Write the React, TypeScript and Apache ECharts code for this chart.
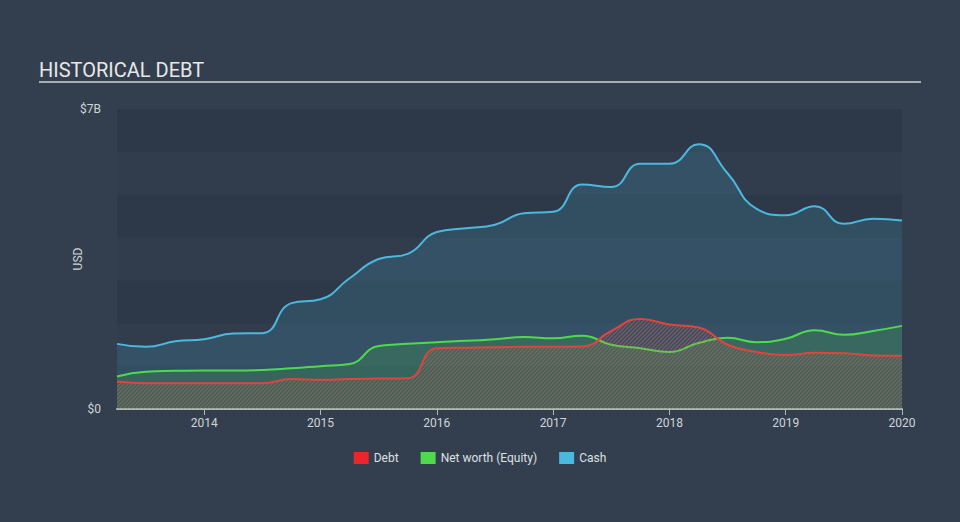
import React, { useEffect, useRef } from "react";
import * as echarts from "echarts";

const quarters = [
  2013.25, 2013.5, 2013.75, 2014.0, 2014.25, 2014.5, 2014.75, 2015.0, 2015.25, 2015.5,
  2015.75, 2016.0, 2016.25, 2016.5, 2016.75, 2017.0, 2017.25, 2017.5, 2017.75, 2018.0,
  2018.25, 2018.5, 2018.75, 2019.0, 2019.25, 2019.5, 2019.75, 2020.0,
];
const cash = [
  1.52, 1.45, 1.58, 1.63, 1.76, 1.77, 2.47, 2.56, 3.05, 3.5,
  3.62, 4.13, 4.22, 4.3, 4.57, 4.6, 5.24, 5.18, 5.72, 5.72,
  6.18, 5.5, 4.67, 4.52, 4.73, 4.32, 4.44, 4.4,
];
const equity = [
  0.76, 0.87, 0.89, 0.9, 0.9, 0.91, 0.95, 1.0, 1.05, 1.47,
  1.52, 1.56, 1.59, 1.63, 1.68, 1.65, 1.71, 1.5, 1.42, 1.33,
  1.54, 1.66, 1.56, 1.64, 1.84, 1.73, 1.82, 1.94,
];
const debt = [
  0.64, 0.6, 0.6, 0.6, 0.6, 0.6, 0.7, 0.68, 0.7, 0.71,
  0.72, 1.42, 1.43, 1.44, 1.45, 1.45, 1.46, 1.82, 2.1, 1.97,
  1.9, 1.5, 1.33, 1.26, 1.31, 1.3, 1.25, 1.24,
];
const yearTicks = [2014, 2015, 2016, 2017, 2018, 2019, 2020];
const seriesNames = ["Debt", "Net worth (Equity)", "Cash"];

function makeHatch(): HTMLCanvasElement {
  const c = document.createElement("canvas");
  c.width = 4;
  c.height = 4;
  const ctx = c.getContext("2d")!;
  ctx.strokeStyle = "rgba(226,96,80,0.72)";
  ctx.lineWidth = 1.15;
  ctx.beginPath();
  ctx.moveTo(0, 4);
  ctx.lineTo(4, 0);
  ctx.moveTo(-1, 1);
  ctx.lineTo(1, -1);
  ctx.moveTo(3, 5);
  ctx.lineTo(5, 3);
  ctx.stroke();
  return c;
}

export default function App() {
  const ref = useRef<HTMLDivElement>(null);
  useEffect(() => {
    document.body.style.margin = "0";
    const chart = echarts.init(ref.current!, null, { renderer: "svg" });
    const pairs = (vals: number[]) => quarters.map((q, i) => [q, vals[i]]);
    const font = "Roboto, sans-serif";
    chart.setOption({
      animation: false,
      backgroundColor: "#333f4f",
      textStyle: { fontFamily: font },
      title: {
        text: "HISTORICAL DEBT",
        left: 34,
        top: 55,
        textStyle: { color: "#e8e8e8", fontSize: 20, fontWeight: "normal", fontFamily: font },
      },
      graphic: [
        { type: "rect", shape: { x: 39, y: 81, width: 882, height: 2 }, style: { fill: "#a7adb5" } },
      ],
      legend: {
        data: seriesNames,
        bottom: 53,
        left: "center",
        icon: "rect",
        itemWidth: 15,
        itemHeight: 12,
        itemGap: 22,
        textStyle: { color: "#dde0e3", fontSize: 12, fontFamily: font },
      },
      grid: { left: 117, right: 58, top: 109, bottom: 113 },
      xAxis: {
        type: "value",
        min: 2013.25,
        max: 2020,
        splitLine: { show: false },
        axisLine: { show: true, lineStyle: { color: "#aeb6be", width: 2 } },
        axisTick: { show: true, customValues: yearTicks, length: 6, lineStyle: { color: "#aeb6be" } },
        axisLabel: {
          customValues: yearTicks,
          color: "#d0d4d8",
          fontSize: 12,
          margin: 8,
          formatter: (v: number) => String(Math.round(v)),
        },
      },
      yAxis: {
        type: "value",
        min: 0,
        max: 7,
        interval: 1,
        name: "USD",
        nameLocation: "middle",
        nameGap: 33,
        nameMoveOverlap: false,
        nameRotate: 90,
        nameTextStyle: { color: "#d0d4d8", fontSize: 12 },
        axisLine: { show: false },
        axisTick: { show: false },
        splitLine: { show: false },
        splitArea: { show: true, areaStyle: { color: ["#2d3949", "#313d4d"] } },
        axisLabel: {
          color: "#d0d4d8",
          fontSize: 12,
          margin: 16,
          formatter: (v: number) => (v === 0 ? "$0" : v === 7 ? "$7B" : ""),
        },
      },
      series: [
        {
          name: "Cash",
          type: "line",
          data: pairs(cash),
          smooth: 0.5,
          showSymbol: false,
          z: 1,
          lineStyle: { color: "#4bb8de", width: 2 },
          itemStyle: { color: "#4bb8de" },
          areaStyle: { color: "rgba(75,184,222,0.24)" },
        },
        {
          name: "Net worth (Equity)",
          type: "line",
          data: pairs(equity),
          smooth: 0.5,
          showSymbol: false,
          z: 2,
          lineStyle: { color: "#4fd94f", width: 2 },
          itemStyle: { color: "#4fd94f" },
          areaStyle: { color: "rgba(79,217,79,0.24)" },
        },
        {
          name: "Debt",
          type: "line",
          data: pairs(debt),
          smooth: 0.5,
          showSymbol: false,
          z: 3,
          lineStyle: { color: "#e0453d", width: 2 },
          itemStyle: { color: "#e8262b" },
          areaStyle: { color: { image: makeHatch(), repeat: "repeat" } },
        },
      ],
    });
    return () => chart.dispose();
  }, []);
  return <div ref={ref} style={{ width: 960, height: 522 }} />;
}
